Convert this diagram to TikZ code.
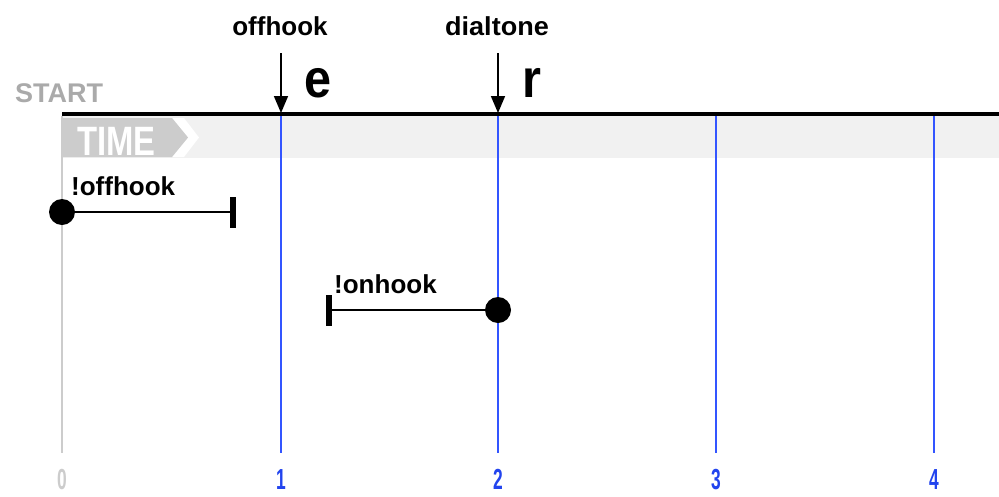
\documentclass[tikz,border=0pt]{standalone}
\usepackage{fontspec}
\setmainfont{Liberation Sans}
\usetikzlibrary{arrows.meta}
\definecolor{tlblue}{HTML}{3355FF}
\definecolor{numblue}{HTML}{2244EE}
\definecolor{startgray}{HTML}{AAAAAA}
\definecolor{bandgray}{HTML}{F1F1F1}
\definecolor{arrowgray}{HTML}{CCCCCC}
\tikzset{
  lab/.style={font=\bfseries\fontsize{26}{30}\selectfont, inner sep=0pt},
  numlab/.style={font=\bfseries\fontsize{29}{32}\selectfont, inner sep=0pt, anchor=base},
  bigl/.style={font=\bfseries\fontsize{54}{60}\selectfont, inner sep=0pt, anchor=base},
  tline/.style={tlblue, line width=2pt},
  dotnode/.style={circle, fill=black, inner sep=0pt, minimum size=26pt},
  barnode/.style={rectangle, fill=black, inner sep=0pt, minimum width=6pt, minimum height=31pt},
  evarrow/.style={line width=1.6pt, -{Triangle[width=14pt,length=17pt]}},
}
\begin{document}
\begin{tikzpicture}[x=1pt,y=-1pt]
\useasboundingbox (0,0) rectangle (999,496);
% band
\fill[bandgray] (62,116) rectangle (999,158);
% TIME arrow
\fill[white] (172,118) -- (184,118) -- (199,137.5) -- (184,157) -- (172,157) -- (188,137.5) -- cycle;
\fill[arrowgray] (62,118) -- (172,118) -- (188,137.5) -- (172,157) -- (62,157) -- cycle;
\node[font=\bfseries\fontsize{41}{44}\selectfont, text=white, inner sep=0pt, anchor=base west] (timelab) at (77,155) {\scalebox{0.8}[1]{TIME}};
% vertical lines
\coordinate (v0t) at (62,116); \coordinate (v0b) at (62,453);
\coordinate (v1t) at (281,115); \coordinate (v1b) at (281,453);
\coordinate (v2t) at (498,115); \coordinate (v2b) at (498,453);
\coordinate (v3t) at (716,115); \coordinate (v3b) at (716,453);
\coordinate (v4t) at (934,115); \coordinate (v4b) at (934,453);
\draw[arrowgray, line width=2pt] (v0t) -- (v0b);
\draw[tline] (v1t) -- (v1b);
\draw[tline] (v2t) -- (v2b);
\draw[tline] (v3t) -- (v3b);
\draw[tline] (v4t) -- (v4b);
% axis
\coordinate (axl) at (62,114); \coordinate (axr) at (999,114);
\draw[line width=4pt] (axl) -- (axr);
% START
\node[font=\bfseries\fontsize{27}{30}\selectfont, text=startgray, inner sep=0pt, anchor=base west] (start) at (15,102) {START};
% events
\node[lab, anchor=base] (offhook) at (280,35) {offhook};
\node[lab, anchor=base] (dialtone) at (497,35) {\scalebox{1.04}[1]{dialtone}};
\coordinate (a1s) at (281,53); \coordinate (a1e) at (281,113);
\coordinate (a2s) at (498,53); \coordinate (a2e) at (498,113);
\draw[evarrow] (a1s) -- (a1e);
\draw[evarrow] (a2s) -- (a2e);
\node[bigl] (e) at (318,97) {\scalebox{0.9}[1]{e}};
\node[bigl] (r) at (532,97) {\scalebox{0.9}[1]{r}};
% !offhook
\node[dotnode] (d1) at (62,212) {};
\node[barnode] (b1) at (233,212) {};
\draw[line width=2pt] (d1) -- (b1);
\node[lab, anchor=base west] (l1) at (71,195) {!offhook};
% !onhook
\node[barnode] (b2) at (329,310) {};
\node[dotnode] (d2) at (498,310) {};
\draw[line width=2pt] (b2) -- (d2);
\node[lab, anchor=base west] (l2) at (334,293) {!onhook};
% numbers
\node[numlab, text=arrowgray] (n0) at (62,489) {\scalebox{0.6}[1]{0}};
\node[numlab, text=numblue] (n1) at (281,489) {\scalebox{0.6}[1]{1}};
\node[numlab, text=numblue] (n2) at (498,489) {\scalebox{0.6}[1]{2}};
\node[numlab, text=numblue] (n3) at (716,489) {\scalebox{0.6}[1]{3}};
\node[numlab, text=numblue] (n4) at (934,489) {\scalebox{0.6}[1]{4}};
\end{tikzpicture}
\end{document}
